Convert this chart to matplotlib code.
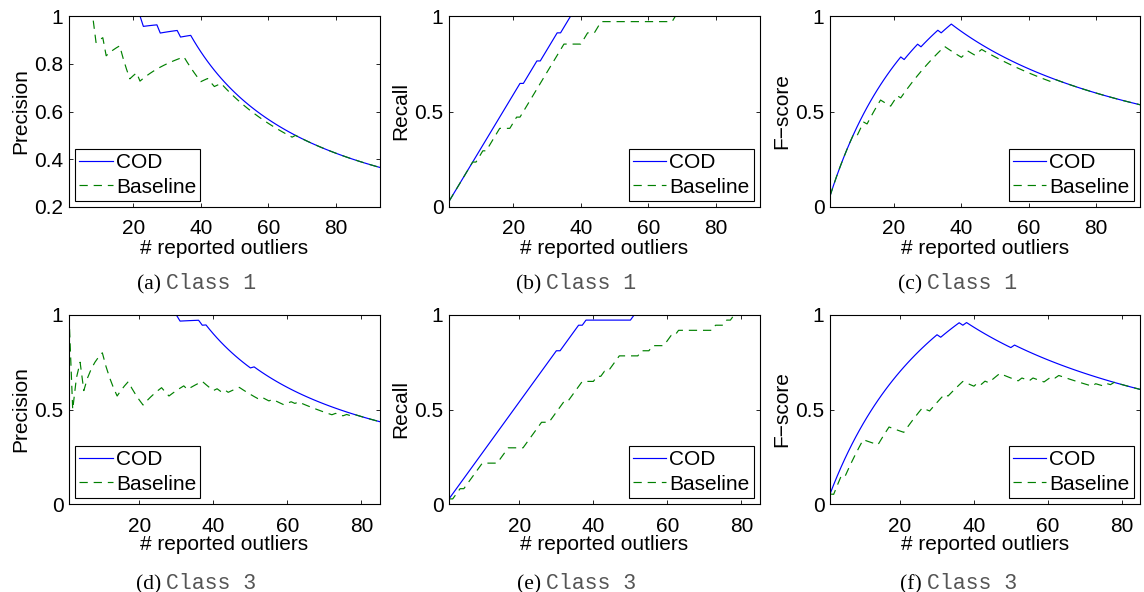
import numpy as np
import matplotlib
matplotlib.use('Agg')
import matplotlib.pyplot as plt

plt.rcParams['font.family'] = ['Liberation Sans', 'DejaVu Sans']

# ranks at which a true outlier appears in each ranked list
n_ranked_c1 = 93
n_outliers_c1 = 34
cod_hits_c1 = [1, 2, 3, 4, 5, 6, 7, 8, 9, 10, 11, 12, 13, 14, 15, 16, 17, 18, 19, 20, 21, 22,
               24, 25, 26, 27, 29, 30, 31, 32, 33, 35, 36, 37]
base_hits_c1 = [1, 2, 3, 4, 5, 6, 7, 8, 10, 11, 13, 14, 15, 16, 20, 21,
                23, 24, 25, 26, 27, 28, 29, 30, 31, 32, 33, 34, 35, 41, 42, 45, 46, 68]

n_ranked_c3 = 85
n_outliers_c3 = 37
cod_hits_c3 = [1, 2, 3, 4, 5, 6, 7, 8, 9, 10, 11, 12, 13, 14, 15, 16, 17, 18, 19, 20,
               21, 22, 23, 24, 25, 26, 27, 28, 29, 30, 32, 33, 34, 35, 36, 38, 51]
base_hits_c3 = [1, 3, 4, 6, 7, 8, 9, 10, 15, 16, 17, 22, 23, 24, 25, 26, 29, 30, 31, 32,
                34, 35, 36, 37, 41, 43, 45, 46, 47, 53, 56, 60, 61, 63, 73, 76, 78]

panel_letters = ['(a)', '(b)', '(c)', '(d)', '(e)', '(f)']
class_names = ['Class 1', 'Class 3']
metric_names = ['Precision', 'Recall', 'F\u2212score']


def curves(hits, n_ranked, n_out):
    k = np.arange(1, n_ranked + 1)
    tp = np.cumsum(np.isin(k, hits))
    prec = tp / k
    rec = tp / n_out
    f = 2 * prec * rec / (prec + rec)
    return k, [prec, rec, f]


W, H = 1144, 592
fig = plt.figure(figsize=(W / 100, H / 100), dpi=100)

cols = [(69, 380), (449, 760), (830, 1140)]
rows = [(16, 207), (315, 504)]
caption_y = [289, 589]

classes = [(cod_hits_c1, base_hits_c1, n_ranked_c1, n_outliers_c1),
           (cod_hits_c3, base_hits_c3, n_ranked_c3, n_outliers_c3)]

for r, (cod_h, base_h, n_rank, n_out) in enumerate(classes):
    k, cod = curves(cod_h, n_rank, n_out)
    _, base = curves(base_h, n_rank, n_out)
    t, b = rows[r]
    for c in range(3):
        l, rr = cols[c]
        ax = fig.add_axes([l / W, 1 - b / H, (rr - l) / W, (b - t) / H])
        ax.plot(k, cod[c], color=(0, 0, 1), lw=0.85, label='COD')
        ax.plot(k, base[c], color=(0, 0.5, 0), lw=0.85, ls=(0, (7, 5)), label='Baseline')
        ax.set_xlim(1, n_rank)
        ax.set_xticks([20, 40, 60, 80])
        if r == 0 and c == 0:
            ax.set_ylim(0.2, 1)
            ax.set_yticks([0.2, 0.4, 0.6, 0.8, 1])
            ax.set_yticklabels(['0.2', '0.4', '0.6', '0.8', '1'])
        else:
            ax.set_ylim(0, 1)
            ax.set_yticks([0, 0.5, 1])
            ax.set_yticklabels(['0', '0.5', '1'])
        ax.tick_params(direction='in', top=True, right=True, length=3, width=0.6,
                       labelsize=15)
        ax.tick_params(axis='x', pad=9)
        ax.tick_params(axis='y', pad=4)
        for s in ax.spines.values():
            s.set_linewidth(0.8)
        ax.set_xlabel('# reported outliers', fontsize=15, labelpad=0)
        ax.set_ylabel(metric_names[c], fontsize=15, labelpad=3)
        leg = ax.legend(loc='lower left' if c == 0 else 'lower right', fontsize=15,
                        fancybox=False, edgecolor='k', framealpha=1, borderpad=0.2,
                        labelspacing=0.25, handlelength=1.6, handletextpad=0.15,
                        borderaxespad=0.3)
        leg.get_frame().set_linewidth(0.8)

        fig.text((l + 92) / W, 1 - caption_y[r] / H, panel_letters[r * 3 + c],
                 family='Liberation Serif', fontsize=15.5, ha='right', va='baseline')
        fig.text((l + 97) / W, 1 - caption_y[r] / H, class_names[r],
                 family='Liberation Mono', fontsize=15.5, color='#555555',
                 ha='left', va='baseline')

fig.savefig('out.png', dpi=100)
